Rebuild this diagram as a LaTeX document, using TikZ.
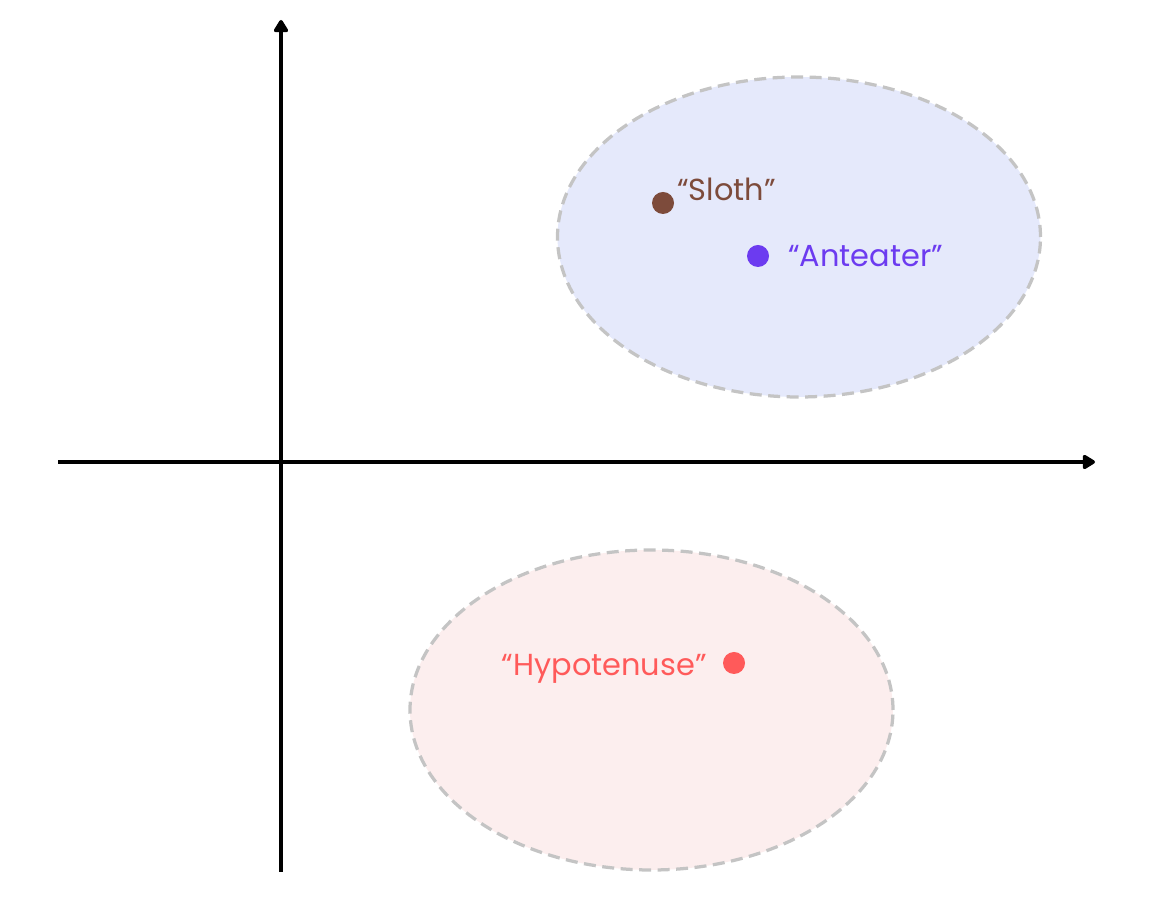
\documentclass[tikz,border=0pt]{standalone}
\usepackage{fontspec}
\setmainfont{Poppins}
\usepackage{xcolor}
\usetikzlibrary{arrows.meta,positioning}
\definecolor{slothbrown}{HTML}{7D4B3B}
\definecolor{antpurple}{HTML}{6C3BF0}
\definecolor{hypored}{HTML}{FF5A5A}
\definecolor{blobblue}{HTML}{E5E9FB}
\definecolor{blobpink}{HTML}{FCEEEE}
\definecolor{blobedge}{HTML}{C4C4C4}

\begin{document}
\begin{tikzpicture}[
    axis/.style={-{Triangle[length=2.8mm,width=3.2mm,round]},line width=0.7mm,black},
    blob/.style={draw=blobedge,line width=0.65mm,dash pattern=on 2.4mm off 1.3mm},
    dot/.style={circle,fill=#1,inner sep=0pt,minimum size=4.4mm},
    word/.style={font=\fontsize{17.3}{19}\selectfont,text=#1,inner sep=0pt}
  ]
    \useasboundingbox (0,0) rectangle (23.18,17.96);
    % ===== clusters =====
    \filldraw[fill=blobblue,blob] (15.98,13.22) ellipse [x radius=4.83,y radius=3.2];
    \filldraw[fill=blobpink,blob] (13.03,3.76) ellipse [x radius=4.83,y radius=3.2];
    % ===== axes =====
    \coordinate (xl) at (1.16,8.72);
    \coordinate (xr) at (21.9,8.72);
    \coordinate (yb) at (5.62,0.52);
    \coordinate (yt) at (5.62,17.56);
    \draw[axis] (xl) -- (xr);
    \draw[axis] (yb) -- (yt);
    % ===== words =====
    \node[dot=slothbrown] (sloth) at (13.26,13.9) {};
    \node[word=slothbrown,anchor=south west] (slothlbl) at (13.54,13.93) {``Sloth''};
    \node[dot=antpurple] (anteater) at (15.16,12.84) {};
    \node[word=antpurple,right=0.37cm of anteater] (anteaterlbl) {``Anteater''};
    \node[dot=hypored] (hypo) at (14.68,4.7) {};
    \node[word=hypored,anchor=east] (hypolbl) at (14.14,4.58) {``Hypotenuse''};
\end{tikzpicture}
\end{document}
